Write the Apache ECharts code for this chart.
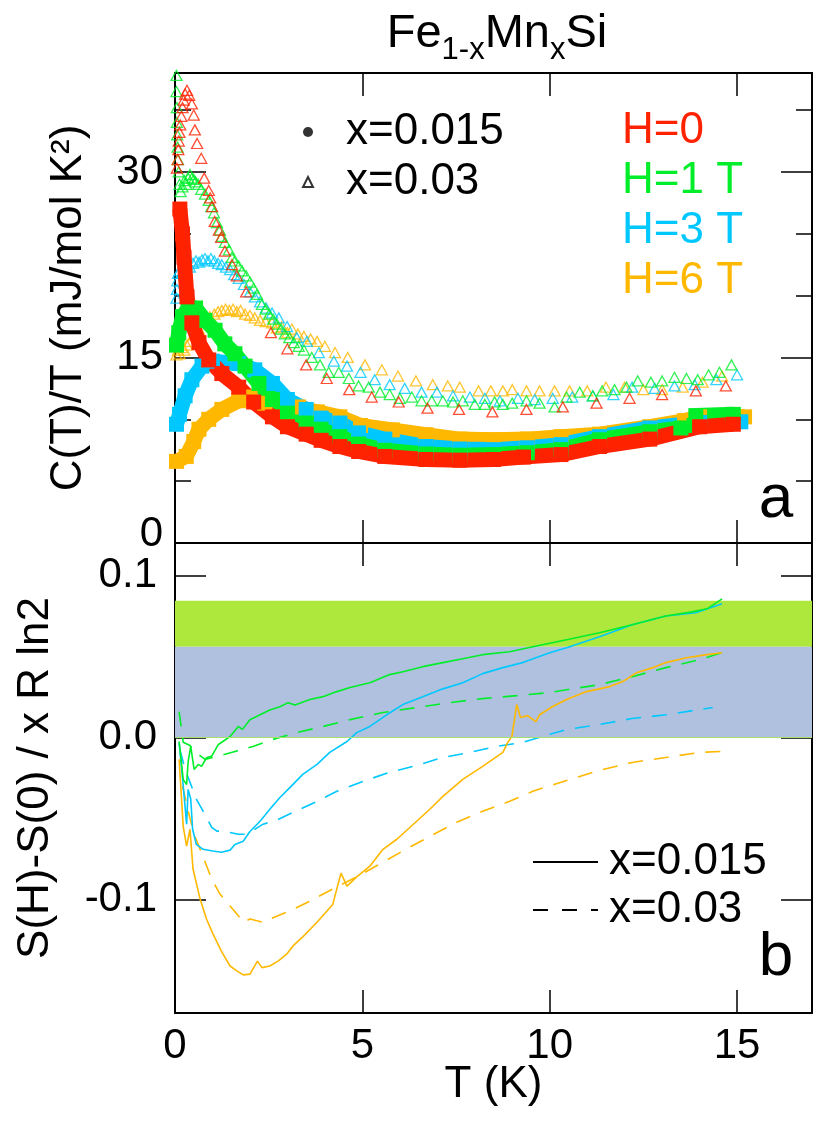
<!DOCTYPE html>
<html>
<head>
<meta charset="utf-8">
<script src="https://cdn.jsdelivr.net/npm/echarts@6.0.0/dist/echarts.min.js"></script>
<style>
html, body { margin: 0; padding: 0; background: #fff; }
#box { width: 814px; height: 1133px; }
</style>
</head>
<body>
<div id="box"></div>
<script>
// panel a: C/T, x=0.015 (filled squares)
const redSq = [[0.13,27.0],[0.2,25.0],[0.24,23.1],[0.32,19.9],[0.45,17.8],[0.64,16.2],[0.9,14.8],[1.25,13.7],[1.7,12.6],[2.1,11.4],[2.6,10.2],[3.0,9.4],[3.5,8.8],[3.9,8.3],[4.4,7.8],[4.9,7.4],[5.6,7.0],[6.7,6.75],[7.6,6.7],[8.5,6.75],[9.3,6.95],[10.3,7.15],[11.33,7.8],[12.67,8.4],[14.0,9.4],[14.9,9.6]];
const greenSq = [[0.04,16.0],[0.1,17.0],[0.2,18.3],[0.35,19.0],[0.55,19.0],[0.8,18.0],[1.07,17.2],[1.33,16.1],[1.6,15.3],[1.87,14.3],[2.24,12.9],[2.6,11.6],[3.0,10.5],[3.5,9.7],[3.9,9.2],[4.4,8.6],[4.9,8.0],[5.6,7.5],[6.7,7.2],[7.6,7.1],[8.5,7.15],[9.4,7.3],[10.3,7.55],[11.33,8.35],[12.67,9.0],[13.5,9.3],[13.85,9.5],[13.9,10.3],[14.9,10.4]];
const cyanSq = [[0.04,9.6],[0.12,10.4],[0.27,11.9],[0.45,13.2],[0.72,14.3],[1.0,14.7],[1.7,14.5],[2.13,14.0],[2.6,12.9],[3.0,11.6],[3.5,10.8],[3.9,10.1],[4.4,9.7],[4.9,8.9],[5.6,8.4],[6.7,7.8],[7.6,7.6],[8.5,7.55],[9.4,7.7],[10.3,7.95],[11.33,8.6],[12.67,9.3],[14.0,9.75],[15.1,9.8]];
const orangeSq = [[0.04,6.6],[0.3,7.0],[0.5,8.2],[0.64,9.2],[0.9,10.0],[1.25,10.8],[1.7,11.5],[2.0,11.8],[2.4,11.3],[3.3,11.0],[3.8,10.6],[4.4,10.2],[4.95,9.5],[5.8,9.15],[6.7,8.75],[7.6,8.4],[8.5,8.35],[9.4,8.4],[10.3,8.6],[11.33,8.8],[12.67,9.4],[13.6,9.9],[14.0,10.2],[15.2,10.2]];

// panel a: C/T, x=0.03 (open triangles)
const redTri = [[0.05,30.3],[0.07,31.0],[0.09,31.8],[0.1,32.5],[0.12,33.2],[0.14,33.8],[0.17,34.5],[0.2,35.2],[0.23,35.8],[0.27,36.3],[0.32,36.6],[0.38,36.2],[0.45,35.5],[0.5,34.6],[0.53,33.4],[0.59,32.3],[0.7,31.1],[0.78,29.5],[0.9,28.5],[0.94,27.9],[0.99,27.2],[1.06,26.0],[1.17,25.3],[1.23,24.7],[1.33,23.6],[1.52,22.5],[1.65,21.6],[1.9,20.3],[2.56,17.0],[3.0,15.7],[3.5,14.4],[4.05,13.3],[4.65,12.4],[5.25,11.8],[5.97,11.4],[6.74,10.9],[7.58,10.8],[8.47,10.6],[9.38,10.8],[10.35,11.0],[11.25,11.3],[12.13,11.7],[13.0,12.0],[13.9,12.3],[14.7,12.7]];
const greenTri = [[0.04,37.8],[0.04,36.5],[0.05,35.2],[0.05,34.0],[0.06,33.0],[0.07,32.0],[0.08,31.0],[0.1,30.0],[0.12,29.0],[0.15,28.4],[0.2,28.8],[0.25,29.3],[0.3,29.0],[0.35,29.5],[0.4,29.8],[0.45,29.5],[0.5,29.4],[0.55,29.2],[0.62,29.0],[0.7,28.6],[0.8,28.2],[0.9,27.7],[0.97,27.2],[1.04,26.7],[1.12,25.9],[1.2,25.3],[1.25,24.8],[1.33,24.3],[1.44,23.7],[1.52,23.1],[1.6,22.8],[1.7,22.4],[1.79,22.0],[1.9,21.6],[2.0,21.1],[2.1,20.6],[2.19,20.1],[2.32,19.3],[2.42,18.9],[2.51,18.5],[2.62,18.1],[2.72,17.7],[2.83,17.3],[2.93,16.9],[3.05,16.6],[3.17,16.2],[3.3,15.9],[3.44,15.6],[3.65,15.0],[3.87,14.4],[4.1,13.8],[4.37,13.8],[4.64,13.3],[4.9,12.7],[5.17,12.6],[5.47,12.2],[5.73,12.0],[6.0,11.7],[6.32,11.8],[6.58,11.5],[6.85,11.5],[7.15,11.5],[7.42,11.4],[7.68,11.5],[8.0,11.2],[8.27,11.2],[8.53,11.4],[8.75,11.2],[9.0,11.3],[9.38,11.5],[9.73,11.3],[10.13,11.0],[10.45,11.8],[10.8,12.2],[11.15,11.9],[11.4,12.3],[11.73,12.4],[12.05,12.6],[12.35,13.1],[12.7,13.0],[13.0,13.1],[13.33,13.4],[13.65,13.3],[13.95,13.2],[14.24,13.6],[14.53,13.8],[14.85,14.4]];
const cyanTri = [[0.04,19.8],[0.05,20.5],[0.06,21.2],[0.08,21.8],[0.12,22.0],[0.18,21.8],[0.25,22.2],[0.32,22.4],[0.4,22.3],[0.48,22.6],[0.56,22.8],[0.64,22.7],[0.72,22.9],[0.8,23.0],[0.88,22.8],[0.96,23.0],[1.05,22.8],[1.15,22.6],[1.25,22.5],[1.36,22.3],[1.47,22.1],[1.58,21.7],[1.7,21.4],[1.84,20.9],[2.0,20.3],[2.13,19.9],[2.27,19.5],[2.43,19.0],[2.59,18.6],[2.77,18.2],[2.99,17.5],[3.25,16.6],[3.52,16.3],[3.84,15.4],[4.24,14.7],[4.59,14.3],[4.95,13.8],[5.33,13.2],[5.73,12.8],[6.13,12.5],[6.58,12.2],[6.99,12.2],[7.42,11.9],[7.87,11.8],[8.27,11.7],[8.67,11.5],[9.15,11.7],[9.6,11.6],[10.08,11.7],[10.6,11.8],[11.15,11.9],[11.7,12.0],[12.2,12.6],[12.8,12.5],[13.33,12.7],[13.87,12.8],[14.45,13.2],[15.0,13.6]];
const orangeTri = [[0.04,15.2],[0.08,15.6],[0.12,15.3],[0.18,15.8],[0.25,15.6],[0.32,16.0],[0.4,16.3],[0.5,16.8],[0.64,17.3],[0.8,17.9],[0.93,18.3],[1.05,18.5],[1.15,18.7],[1.25,18.8],[1.35,18.9],[1.45,18.8],[1.55,18.9],[1.65,18.7],[1.75,18.8],[1.87,18.5],[2.0,18.4],[2.13,18.2],[2.27,18.0],[2.42,17.9],[2.59,17.8],[2.72,17.4],[2.85,17.5],[3.0,17.0],[3.12,17.3],[3.28,16.9],[3.44,16.7],[3.62,16.5],[3.79,16.3],[4.0,15.9],[4.27,15.4],[4.61,15.0],[5.07,14.4],[5.52,14.0],[5.95,13.5],[6.43,13.1],[6.88,12.8],[7.28,12.7],[7.6,12.6],[8.1,12.3],[8.43,12.3],[8.75,12.3],[9.0,12.4],[9.38,12.3],[9.73,12.3],[10.13,12.3],[10.53,12.3],[11.0,12.3],[11.5,12.6],[12.0,12.6],[12.5,12.4],[13.0,12.4],[13.55,12.6],[14.08,13.0],[14.6,13.5]];

// panel b: entropy difference, solid = x=0.015, dashed = x=0.03
const greenSolid = [[0.11,-0.0025],[0.22,-0.026],[0.31,-0.029],[0.35,-0.015],[0.42,-0.0055],[0.51,-0.0197],[0.62,-0.0166],[0.71,-0.0178],[0.84,-0.0125],[0.98,-0.0115],[1.15,-0.0045],[1.47,0.0006],[1.69,0.0068],[1.8,0.005],[2.0,0.011],[2.27,0.014],[2.53,0.017],[2.8,0.019],[3.02,0.0215],[3.2,0.02],[3.6,0.0234],[3.95,0.0252],[4.32,0.0283],[4.67,0.0308],[5.2,0.0338],[5.73,0.0388],[6.08,0.0406],[6.61,0.0437],[7.15,0.0462],[7.68,0.0486],[8.21,0.0511],[8.93,0.0529],[9.55,0.056],[10.45,0.0603],[11.33,0.0646],[12.2,0.0695],[13.1,0.075],[13.8,0.0775],[14.2,0.0794],[14.6,0.0855]];
const cyanSolid = [[0.11,-0.003],[0.22,-0.03],[0.31,-0.0535],[0.35,-0.032],[0.42,-0.038],[0.47,-0.0566],[0.57,-0.066],[0.75,-0.069],[1.01,-0.07],[1.24,-0.0708],[1.47,-0.0695],[1.6,-0.066],[1.82,-0.064],[2.0,-0.058],[2.27,-0.0517],[2.53,-0.0443],[2.8,-0.037],[3.07,-0.0308],[3.41,-0.0228],[3.79,-0.0166],[4.13,-0.0092],[4.59,-0.0025],[4.85,0.003],[5.2,0.0068],[5.65,0.014],[6.08,0.0203],[6.61,0.0252],[7.15,0.03],[7.68,0.0338],[8.21,0.0394],[8.75,0.0431],[9.28,0.0462],[10.0,0.0523],[10.45,0.0554],[11.33,0.0622],[12.2,0.0695],[13.1,0.075],[13.9,0.077],[14.6,0.0825]];
const orangeSolid = [[0.11,-0.0135],[0.22,-0.055],[0.31,-0.067],[0.4,-0.0566],[0.48,-0.081],[0.67,-0.0997],[0.84,-0.112],[1.01,-0.121],[1.24,-0.132],[1.47,-0.141],[1.65,-0.144],[1.82,-0.1465],[2.0,-0.146],[2.1,-0.142],[2.2,-0.138],[2.32,-0.142],[2.53,-0.141],[2.75,-0.138],[2.99,-0.1335],[3.15,-0.1286],[3.41,-0.123],[3.79,-0.114],[4.21,-0.103],[4.43,-0.0837],[4.59,-0.0917],[4.85,-0.086],[5.2,-0.0794],[5.55,-0.069],[5.92,-0.0628],[6.45,-0.0517],[6.8,-0.0443],[7.15,-0.0363],[7.68,-0.0258],[8.21,-0.0178],[8.75,-0.0092],[8.88,-0.003],[8.99,0.0006],[9.12,0.0203],[9.22,0.0123],[9.41,0.0135],[9.63,0.0098],[9.73,0.014],[10.08,0.0191],[10.45,0.0234],[10.98,0.0283],[11.6,0.0314],[11.95,0.0345],[12.32,0.04],[12.75,0.0431],[13.1,0.0462],[13.65,0.0492],[14.2,0.0511],[14.6,0.0523]];
const greenDash = [[0.11,0.016],[0.22,-0.003],[0.4,-0.005],[0.53,-0.0086],[0.8,-0.0135],[1.12,-0.0117],[1.6,-0.0086],[2.08,-0.0055],[2.61,-0.0012],[3.25,0.003],[3.95,0.0068],[4.67,0.011],[5.55,0.0154],[6.45,0.0185],[7.33,0.0215],[8.21,0.024],[9.12,0.0258],[10.0,0.0277],[10.45,0.0295],[11.33,0.0326],[12.2,0.0375],[13.1,0.0431],[14.0,0.048],[14.6,0.0523]];
const cyanDash = [[0.13,-0.0074],[0.27,-0.0197],[0.4,-0.0277],[0.57,-0.038],[0.75,-0.0455],[0.98,-0.0554],[1.12,-0.0578],[1.29,-0.0578],[1.69,-0.0597],[1.92,-0.0597],[2.35,-0.0535],[2.72,-0.051],[3.15,-0.0462],[3.79,-0.0394],[4.32,-0.0332],[5.01,-0.0271],[5.73,-0.0215],[6.45,-0.0172],[7.15,-0.0123],[7.87,-0.0092],[8.59,-0.0055],[9.28,-0.003],[10.0,0.002],[10.45,0.0049],[11.33,0.008],[12.2,0.0117],[13.1,0.014],[14.35,0.0185]];
const orangeDash = [[0.2,-0.03],[0.4,-0.05],[0.55,-0.062],[0.67,-0.069],[0.84,-0.079],[0.98,-0.0874],[1.2,-0.0966],[1.47,-0.104],[1.69,-0.11],[1.82,-0.114],[2.0,-0.112],[2.35,-0.114],[2.53,-0.112],[3.07,-0.107],[3.6,-0.101],[4.21,-0.0935],[4.85,-0.086],[5.39,-0.079],[6.08,-0.07],[6.8,-0.061],[7.52,-0.0523],[8.21,-0.0455],[8.93,-0.0394],[9.55,-0.0332],[10.45,-0.0265],[11.33,-0.0203],[12.2,-0.0154],[13.1,-0.0123],[14.0,-0.0092],[14.6,-0.0086]];

// shaded bands in panel b
const greenBand = [0.056, 0.0843];
const blueBand = [0, 0.056];

const xTicks = [5, 10, 15];
const xLabels = [0, 5, 10, 15];
const yTopMajor = [15, 30];
const yTopMinor = [5, 10, 20, 25, 35];
const yBotTicks = [-0.1, 0, 0.1];

const fieldLabels = ['H=0', 'H=1 T', 'H=3 T', 'H=6 T'];
const colors = ['#ff2200', '#00ee2a', '#00c8ff', '#ffb800'];

const FONT = 'Liberation Sans, Arial, Helvetica, sans-serif';

function xFrame (gridIndex, position, extra) {
  return Object.assign({
    type: 'value', gridIndex, position, min: 0, max: 17,
    axisLine: {show: true, onZero: false, lineStyle: {color: '#000', width: 2}},
    axisTick: {show: true, inside: true, length: 23, customValues: xTicks, lineStyle: {color: '#000', width: 1.5}},
    axisLabel: {show: false},
    splitLine: {show: false}
  }, extra || {})
}

function yFrame (gridIndex, position, min, max, ticks, len, extra) {
  return Object.assign({
    type: 'value', gridIndex, position, min, max,
    axisLine: {show: true, onZero: false, lineStyle: {color: '#000', width: 2}},
    axisTick: {show: true, inside: true, length: len, customValues: ticks, lineStyle: {color: '#000', width: 1.5}},
    axisLabel: {show: false},
    splitLine: {show: false}
  }, extra || {})
}

const labelStyle = {color: '#000', fontSize: 42, fontFamily: FONT}
const nameStyle = {color: '#000', fontSize: 44, fontFamily: FONT}

const squareSeries = [orangeSq, cyanSq, greenSq, redSq].map((d, i) => {
  const c = colors[3 - i]
  return {
    type: 'line', data: d, xAxisIndex: 0, yAxisIndex: 0, silent: true, z: 3,
    symbol: 'rect', symbolSize: 15, showSymbol: true,
    itemStyle: {color: c}, lineStyle: {color: c, width: 15, cap: 'butt', join: 'round'}
  }
})

const triSeries = [orangeTri, cyanTri, greenTri, redTri].map((d, i) => {
  const c = colors[3 - i]
  return {
    type: 'scatter', data: d, xAxisIndex: 0, yAxisIndex: 0, silent: true, z: 2,
    symbol: 'triangle', symbolSize: [11, 10],
    itemStyle: {color: 'rgba(255,255,255,0)', borderColor: c, borderWidth: 1.3}
  }
})

const entropySeries = [
  [orangeDash, 3, true], [cyanDash, 2, true], [greenDash, 1, true],
  [orangeSolid, 3, false], [cyanSolid, 2, false], [greenSolid, 1, false]
].map(([d, ci, dashed]) => ({
  type: 'line', data: d, xAxisIndex: 2, yAxisIndex: 4, silent: true, symbol: 'none', z: 3,
  lineStyle: {color: colors[ci], width: 1.6, type: dashed ? [15, 11] : 'solid'}
}))

const chart = echarts.init(document.getElementById('box'))

const option = {
  animation: false,
  backgroundColor: '#fff',
  textStyle: {fontFamily: FONT},
  grid: [
    {left: 175, top: 73, width: 637, height: 470, outerBoundsMode: 'none', containLabel: false},
    {left: 175, top: 543, width: 637, height: 470, outerBoundsMode: 'none', containLabel: false}
  ],
  title: [
    {
      text: '{n|Fe}{s|1-x}{n|Mn}{s|x}{n|Si}',
      left: 497, top: 34, textAlign: 'center', textVerticalAlign: 'middle', padding: 0,
      textStyle: {
        fontWeight: 'normal',
        rich: {
          n: {fontSize: 47, lineHeight: 48, fontWeight: 'normal', color: '#000', fontFamily: FONT},
          s: {fontSize: 31, lineHeight: 30, fontWeight: 'normal', padding: [32, 0, 0, 0], color: '#000', fontFamily: FONT}
        }
      }
    },
    ...fieldLabels.map((t, i) => ({
      text: t, left: 622, top: 131 + 50 * i, textVerticalAlign: 'middle', padding: 0,
      textStyle: {color: colors[i], fontSize: 44, fontWeight: 'normal', fontFamily: FONT}
    })),
    {text: 'a', left: 776, top: 500, textAlign: 'center', textVerticalAlign: 'middle', padding: 0,
      textStyle: {color: '#000', fontSize: 62, fontWeight: 'normal', fontFamily: FONT}},
    {text: 'b', left: 776, top: 958, textAlign: 'center', textVerticalAlign: 'middle', padding: 0,
      textStyle: {color: '#000', fontSize: 62, fontWeight: 'normal', fontFamily: FONT}}
  ],
  legend: [
    {
      data: ['lg015', 'lg03'], orient: 'vertical', left: 302, top: 110, padding: 0,
      itemWidth: 10, itemHeight: 10, itemGap: 6, selectedMode: false,
      formatter: n => (n === 'lg015' ? 'x=0.015' : 'x=0.03'),
      textStyle: {color: '#000', fontSize: 44, lineHeight: 44, fontFamily: FONT, padding: [0, 0, 0, 28]}
    },
    {
      data: ['x=0.015', 'x=0.03'], orient: 'vertical', left: 532, top: 840, padding: 0,
      itemWidth: 65, itemHeight: 14, itemGap: 4, selectedMode: false,
      itemStyle: {opacity: 0},
      textStyle: {color: '#000', fontSize: 44, lineHeight: 44, fontFamily: FONT, padding: [0, 0, 0, 6]}
    }
  ],
  xAxis: [
    xFrame(0, 'bottom'),
    xFrame(0, 'top'),
    xFrame(1, 'bottom', {
      name: 'T (K)', nameLocation: 'middle', nameGap: 50, nameMoveOverlap: false, nameTextStyle: nameStyle,
      axisLabel: Object.assign({show: true, margin: 12, customValues: xLabels}, labelStyle)
    }),
    xFrame(1, 'top')
  ],
  yAxis: [
    yFrame(0, 'left', 0, 38, yTopMajor, 31, {
      name: 'C(T)/T (mJ/mol K²)', nameLocation: 'middle', nameGap: 84, nameRotate: 90, nameMoveOverlap: false,
      nameTextStyle: nameStyle,
      axisLabel: Object.assign({show: true, margin: 12, customValues: yTopMajor}, labelStyle)
    }),
    yFrame(0, 'left', 0, 38, yTopMinor, 16, {
      axisLabel: Object.assign({show: true, margin: 12, customValues: [0], verticalAlign: 'bottom', lineHeight: 18}, labelStyle)
    }),
    yFrame(0, 'right', 0, 38, yTopMajor, 31),
    yFrame(0, 'right', 0, 38, yTopMinor, 16),
    yFrame(1, 'left', -0.17, 0.12, yBotTicks, 31, {
      name: 'S(H)-S(0) / x R ln2', nameLocation: 'middle', nameGap: 117, nameRotate: 90, nameMoveOverlap: false,
      nameTextStyle: nameStyle,
      axisLabel: Object.assign({show: true, margin: 18, customValues: yBotTicks, formatter: v => v.toFixed(1)}, labelStyle)
    }),
    yFrame(1, 'right', -0.17, 0.12, yBotTicks, 31)
  ],
  series: [
    ...triSeries,
    ...squareSeries,
    {
      type: 'line', data: [], xAxisIndex: 2, yAxisIndex: 4, silent: true, symbol: 'none', z: 1,
      markArea: {
        silent: true,
        data: [
          [{yAxis: greenBand[0], itemStyle: {color: '#aee83c'}}, {yAxis: greenBand[1]}],
          [{yAxis: blueBand[0], itemStyle: {color: '#b0c1df'}}, {yAxis: blueBand[1]}]
        ]
      },
      markLine: {
        silent: true, symbol: 'none', label: {show: false},
        lineStyle: {color: '#a6e070', width: 1, type: 'solid'},
        data: [{yAxis: blueBand[0]}]
      }
    },
    ...entropySeries,
    {type: 'scatter', name: 'lg015', data: [], xAxisIndex: 0, yAxisIndex: 0, symbol: 'circle', itemStyle: {color: '#000'}},
    {type: 'scatter', name: 'lg03', data: [], xAxisIndex: 0, yAxisIndex: 0, symbol: 'triangle',
      itemStyle: {color: '#fff', borderColor: '#000', borderWidth: 1.2}},
    {type: 'line', name: 'x=0.015', data: [], xAxisIndex: 2, yAxisIndex: 4, symbol: 'none',
      itemStyle: {color: '#000'}, lineStyle: {color: '#000', width: 1.6}},
    {type: 'line', name: 'x=0.03', data: [], xAxisIndex: 2, yAxisIndex: 4, symbol: 'none',
      itemStyle: {color: '#000'}, lineStyle: {color: '#000', width: 1.6, type: [15, 14]}}
  ]
}

chart.setOption(option)
</script>
</body>
</html>
